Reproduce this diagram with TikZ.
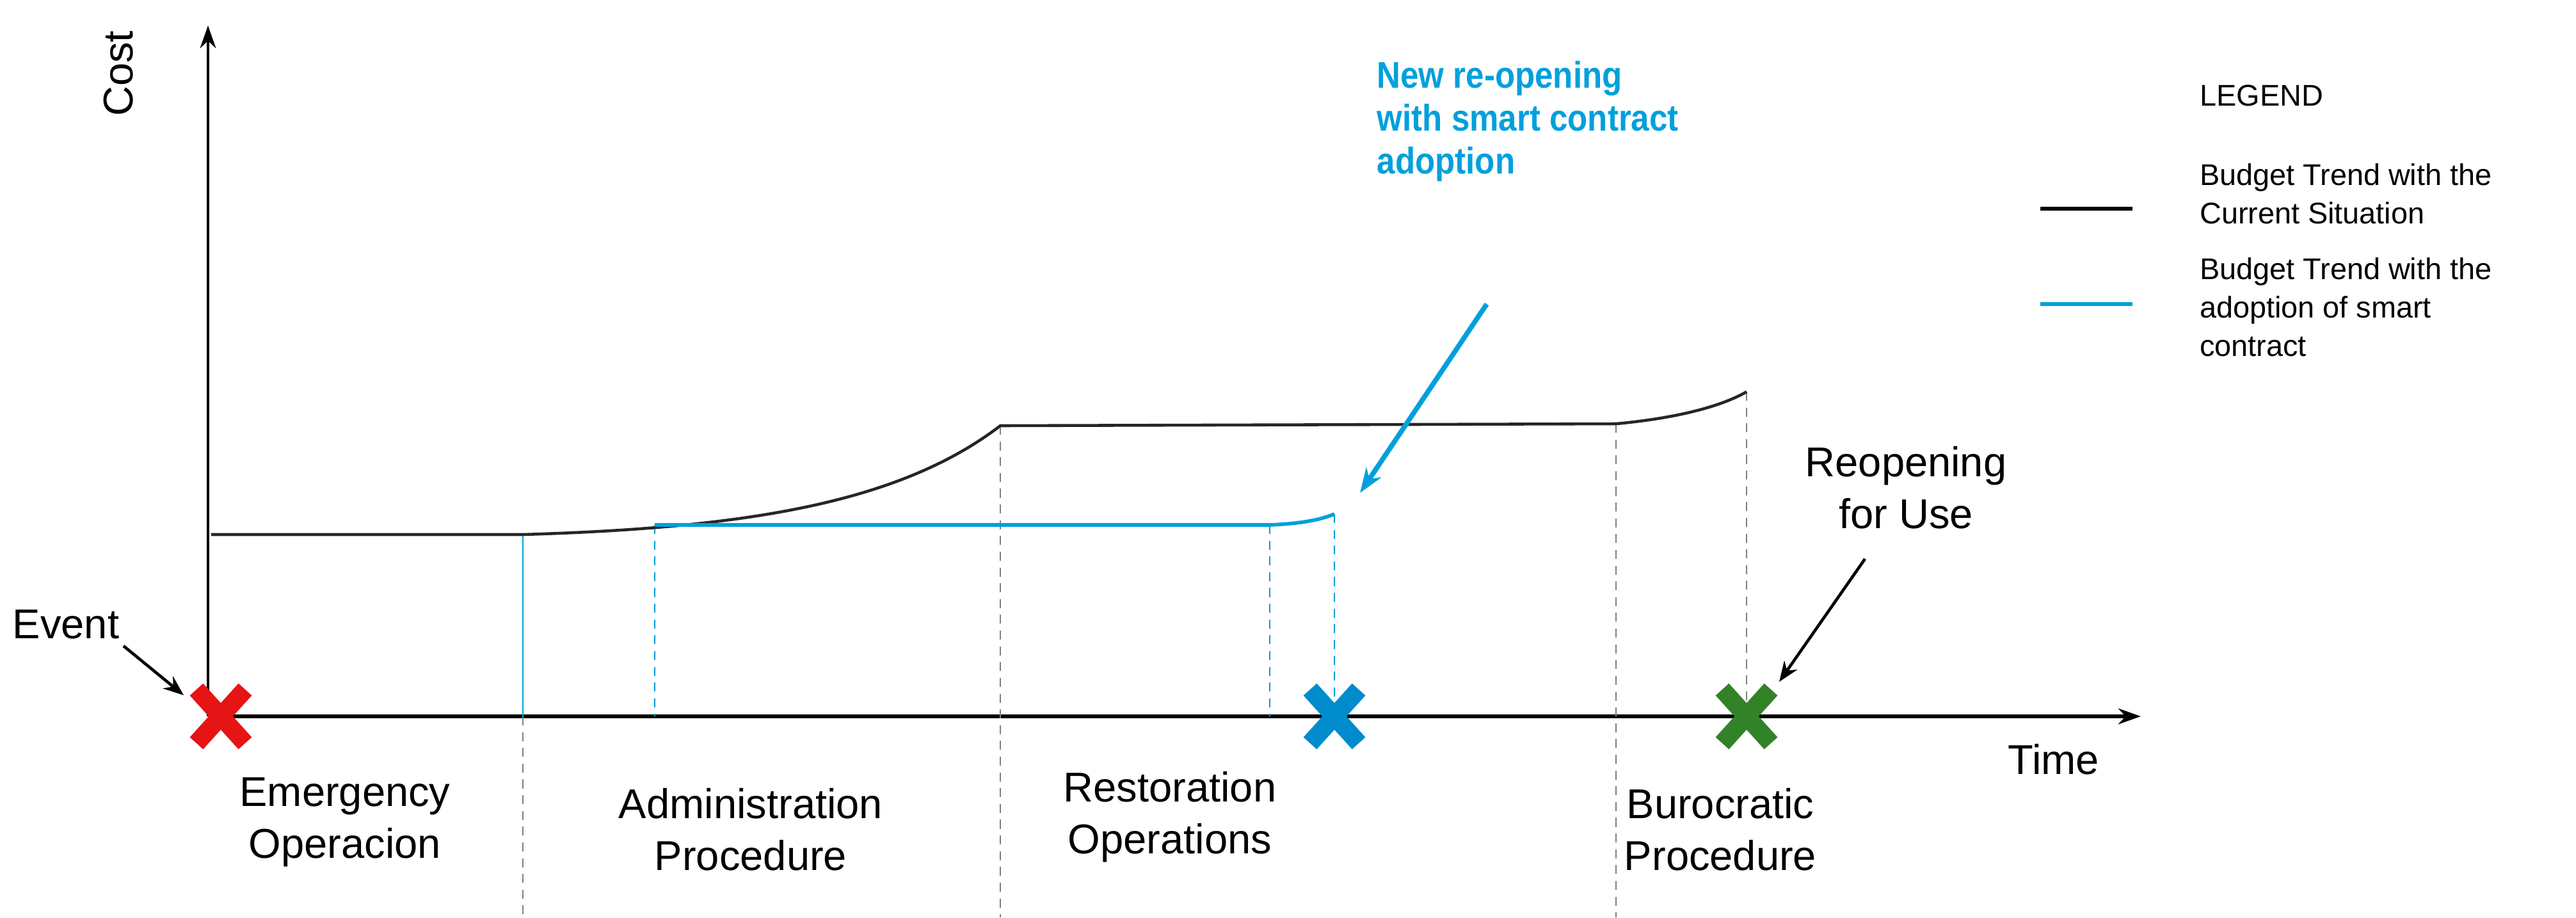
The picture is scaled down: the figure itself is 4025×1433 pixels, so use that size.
\documentclass[tikz,border=0pt]{standalone}
\usepackage{fontspec}
\setmainfont{Liberation Sans}
\newfontfamily\narrowsans[FakeStretch=0.88]{Liberation Sans}
\usetikzlibrary{arrows.meta}
\definecolor{cblue}{RGB}{0,160,220}
\definecolor{xblue}{RGB}{0,140,204}
\definecolor{xred}{RGB}{230,20,20}
\definecolor{xgreen}{RGB}{50,130,40}
\begin{document}
\begin{tikzpicture}[x=0.01cm,y=-0.01cm,
  lbl/.style={font=\fontsize{18.5}{23}\selectfont,align=center},
  leg/.style={font=\fontsize{13.3}{17}\selectfont,align=left,anchor=west},
  gd/.style={gray,dashed,line width=0.5pt,dash pattern=on 4pt off 3pt},
  bd/.style={cblue,line width=0.6pt,dash pattern=on 4pt off 3pt},
  xm/.style={line width=0.28cm}]
\useasboundingbox (0,0) rectangle (4025,1433);
% axes
\draw[line width=1.6pt,-{Stealth[length=10pt,width=7pt]}] (325,1119) -- (3345,1119);
\draw[line width=1.2pt,-{Stealth[length=10pt,width=7pt]}] (325,1119) -- (325,40);
% verticals
\draw[gd] (817,1119) -- (817,1433);
\draw[gd] (1563,665) -- (1563,1433);
\draw[gd] (2525,662) -- (2525,1433);
\draw[gd] (2729,612) -- (2729,1119);
\draw[cblue,line width=0.6pt] (817,835) -- (817,1119);
\draw[bd] (1023,820) -- (1023,1119);
\draw[bd] (1984,820) -- (1984,1119);
\draw[bd] (2085,803) -- (2085,1119);
% curves
\draw[black!85,line width=1.3pt] (330,835) -- (817,835) .. controls (1150,825) and (1400,790) .. (1563,665) -- (2525,662) .. controls (2600,655) and (2680,640) .. (2729,612);
\draw[cblue,line width=1.6pt] (1023,820) -- (1984,820) .. controls (2030,818) and (2060,813) .. (2085,803);
% crosses
\foreach \n/\c/\x in {ex/xred/345,bx/xblue/2085,gx/xgreen/2729}{
  \coordinate (\n) at (\x,1119);
  \draw[\c,xm] ([shift={(-38,-42)}]\n) -- ([shift={(38,42)}]\n);
  \draw[\c,xm] ([shift={(-38,42)}]\n) -- ([shift={(38,-42)}]\n);
}
% labels
\node[lbl,rotate=90] (cost) at (185,115) {Cost};
\node[lbl] (time) at (3209,1186) {Time};
\node[lbl] (event) at (103,975) {Event};
\node[lbl] (l1) at (539,1284) {Emergency\\Operacion};
\node[lbl] (l2) at (1173,1296) {Administration\\Procedure};
\node[lbl] (l3) at (1828,1276) {Restoration\\Operations};
\node[lbl] (l4) at (2688,1296) {Burocratic\\Procedure};
\node[lbl] (reop) at (2978,762) {Reopening\\for Use};
\node[lbl,font=\narrowsans\fontsize{16.5}{19}\selectfont\bfseries,text=cblue,align=left,anchor=north west,inner sep=0pt] (new) at (2151,95) {New re-opening\\with smart contract\\adoption};
\coordinate (ev) at (193,1009);
\draw[line width=1.3pt,-{Stealth[length=9pt,width=7pt]}] (ev) -- ([shift={(-58,-33)}]ex);
\coordinate (ro) at (2914,873);
\draw[line width=1.3pt,-{Stealth[length=9pt,width=7pt]}] (ro) -- ([shift={(51,-54)}]gx);
\coordinate (na) at (2323,475);
\coordinate (nb) at (2125,770);
\draw[cblue,line width=2.2pt,-{Stealth[length=11pt,width=8pt]}] (na) -- (nb);
% legend
\node[leg] (legt) at (3425,149) {LEGEND};
\coordinate (a1) at (3188,326); \coordinate (a2) at (3332,326);
\draw[line width=1.6pt] (a1) -- (a2);
\node[leg] (lg1) at (3425,303) {Budget Trend with the\\Current Situation};
\coordinate (b1) at (3188,475); \coordinate (b2) at (3332,475);
\draw[cblue,line width=1.6pt] (b1) -- (b2);
\node[leg] (lg2) at (3425,480) {Budget Trend with the\\adoption of smart\\contract};
\end{tikzpicture}
\end{document}
